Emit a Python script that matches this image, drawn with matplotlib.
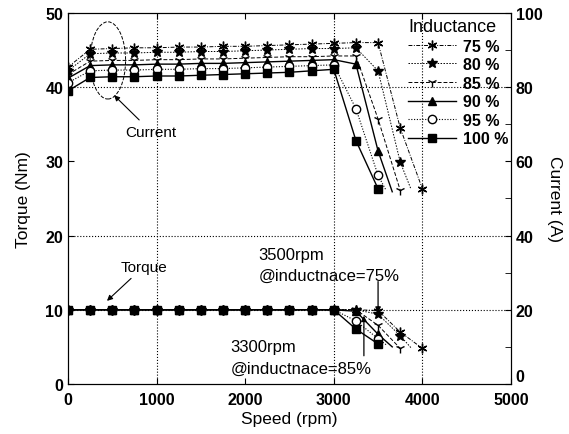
import matplotlib
matplotlib.use("Agg")
import matplotlib.pyplot as plt
from matplotlib.patches import Ellipse

plt.rcParams['font.family'] = ['Liberation Sans', 'DejaVu Sans']

# speeds (rpm) for each inductance case
speed_75 = [0, 250, 500, 750, 1000, 1250, 1500, 1750, 2000, 2250, 2500, 2750, 3000, 3250, 3500, 3750, 4000]
speed_80 = [0, 250, 500, 750, 1000, 1250, 1500, 1750, 2000, 2250, 2500, 2750, 3000, 3250, 3500, 3750, 3870]
speed_85 = [0, 250, 500, 750, 1000, 1250, 1500, 1750, 2000, 2250, 2500, 2750, 3000, 3250, 3500, 3750]
speed_90 = [0, 250, 500, 750, 1000, 1250, 1500, 1750, 2000, 2250, 2500, 2750, 3000, 3250, 3500, 3660]
speed_95 = [0, 250, 500, 750, 1000, 1250, 1500, 1750, 2000, 2250, 2500, 2750, 3000, 3250, 3500, 3590]
speed_100 = [0, 250, 500, 750, 1000, 1250, 1500, 1750, 2000, 2250, 2500, 2750, 3000, 3250, 3500]

# torque (Nm)
torque_75 = [10, 10, 10, 10, 10, 10, 10, 10, 10, 10, 10, 10, 10, 10.0, 9.9, 7.0, 4.8]
torque_80 = [10, 10, 10, 10, 10, 10, 10, 10, 10, 10, 10, 10, 10, 10.0, 9.4, 6.5, 4.9]
torque_85 = [10, 10, 10, 10, 10, 10, 10, 10, 10, 10, 10, 10, 10, 10.0, 7.9, 4.8]
torque_90 = [10, 10, 10, 10, 10, 10, 10, 10, 10, 10, 10, 10, 10, 9.8, 6.7, 5.0]
torque_95 = [10, 10, 10, 10, 10, 10, 10, 10, 10, 10, 10, 10, 10, 8.5, 6.1, 5.3]
torque_100 = [10, 10, 10, 10, 10, 10, 10, 10, 10, 10, 10, 10, 10, 7.4, 5.4]

# current (A)
current_75 = [85.4, 90.2, 90.4, 90.6, 90.6, 90.8, 90.8, 91.0, 91.0, 91.2, 91.4, 91.6, 91.8, 92.0, 92.0, 69.0, 52.6]
current_80 = [84.4, 89.0, 89.2, 89.2, 89.4, 89.4, 89.6, 89.6, 89.8, 90.0, 90.2, 90.4, 90.4, 90.6, 84.4, 59.8, 52.6]
current_85 = [83.4, 87.0, 87.2, 87.2, 87.4, 87.4, 87.6, 87.6, 87.8, 88.0, 88.2, 88.2, 88.4, 88.4, 71.4, 52.2]
current_90 = [82.4, 85.8, 86.0, 86.0, 86.2, 86.2, 86.4, 86.4, 86.6, 86.8, 87.0, 87.2, 87.4, 86.2, 62.8, 51.8]
current_95 = [81.2, 84.4, 84.6, 84.6, 84.8, 84.8, 85.0, 85.0, 85.2, 85.4, 85.6, 85.8, 86.0, 74.2, 56.2, 52.2]
current_100 = [79.0, 82.6, 82.8, 82.8, 83.0, 83.0, 83.2, 83.4, 83.6, 83.8, 84.0, 84.4, 84.8, 65.6, 52.6]

labels = ['75 %', '80 %', '85 %', '90 %', '95 %', '100 %']
speeds = [speed_75, speed_80, speed_85, speed_90, speed_95, speed_100]
torques = [torque_75, torque_80, torque_85, torque_90, torque_95, torque_100]
currents = [current_75, current_80, current_85, current_90, current_95, current_100]

styles = [
    dict(ls=(0, (4, 1.5, 1, 1.5)), marker=(6, 2, 0), ms=7, mfc='k', lw=0.7),
    dict(ls=(0, (1.5, 1.5)), marker='*', ms=7, mfc='k', lw=0.7),
    dict(ls=(0, (4, 2)), marker='1', ms=7, mfc='k', lw=0.7),
    dict(ls='-', marker='^', ms=6, mfc='k', lw=1.0),
    dict(ls=(0, (1, 1.5)), marker='o', ms=6, mfc='white', lw=0.8),
    dict(ls='-', marker='s', ms=5.5, mfc='k', lw=1.0),
]

fig = plt.figure(figsize=(5.69, 4.35), dpi=100)
ax = fig.add_axes([0.1195, 0.115, 0.7785, 0.853])
ax2 = ax.twinx()

# grid lines that show in the scan
for gx in [1000, 3000, 4000]:
    ax.axvline(gx, color='k', ls=':', lw=0.8, zorder=0)
for gy in [10, 20, 40]:
    ax.axhline(gy, color='k', ls=':', lw=0.8, zorder=0)

handles = []
for s, t, c, lab, st in zip(speeds, torques, currents, labels, styles):
    marks = [i for i, v in enumerate(s) if v % 250 == 0]
    ax.plot(s, t, color='k', mec='k', markevery=marks, **st)
    h, = ax2.plot(s, c, color='k', mec='k', markevery=marks, label=lab, **st)
    handles.append(h)

ax.set_xlim(0, 5000)
ax.set_ylim(0, 50)
ax2.set_ylim(0, 100)
ax.set_xticks([0, 1000, 2000, 3000, 4000, 5000])
ax.set_yticks([0, 10, 20, 30, 40, 50])
ax2.set_yticks([0, 20, 40, 60, 80, 100])
ax2.set_yticks([10, 30, 50, 70, 90], minor=True)

ax.tick_params(direction='in', top=True, right=False, labelsize=11.5, length=4)
ax.tick_params(axis='x', pad=6)
ax2.tick_params(direction='in', labelsize=11.5, length=4)
ax2.tick_params(which='minor', direction='in', length=4)
for lab in ax.get_xticklabels() + ax.get_yticklabels() + ax2.get_yticklabels():
    lab.set_fontweight('bold')
ax2.get_yticklabels()[0].set_va('bottom')

ax.set_xlabel('Speed (rpm)', fontsize=12.5, labelpad=3)
ax.set_ylabel('Torque (Nm)', fontsize=12.5, labelpad=10)
ax2.set_ylabel('Current (A)', fontsize=12.5, rotation=270, labelpad=14)

leg = ax2.legend(handles=handles, title='Inductance', loc='upper right',
                 bbox_to_anchor=(1.015, 1.012), frameon=False, fontsize=11.5,
                 title_fontsize=13, handlelength=3.0, labelspacing=0.22,
                 handletextpad=0.4, borderaxespad=0.2, alignment='left')
for tx in leg.get_texts():
    tx.set_fontweight('bold')

# annotations
ax.add_patch(Ellipse((450, 43.6), 400, 10.4, fill=False, ls='--', lw=0.7, color='k'))
ax.annotate('Current', xy=(520, 38.9), xytext=(650, 34.0), fontsize=11,
            ha='left', va='center',
            arrowprops=dict(arrowstyle='-|>', color='k', lw=0.8, mutation_scale=8,
                            shrinkA=2, shrinkB=0))
ax.annotate('Torque', xy=(440, 11.2), xytext=(590, 15.8), fontsize=11,
            ha='left', va='center',
            arrowprops=dict(arrowstyle='-|>', color='k', lw=0.8, mutation_scale=8,
                            shrinkA=2, shrinkB=0))
ax.text(2150, 17.5, '3500rpm', fontsize=12, ha='left', va='center')
ax.text(2150, 14.6, '@inductnace=75%', fontsize=12, ha='left', va='center')
ax.annotate('', xy=(3500, 9.6), xytext=(3500, 13.8),
            arrowprops=dict(arrowstyle='-|>', color='k', lw=0.9, mutation_scale=8,
                            shrinkA=0, shrinkB=0))
ax.text(1833, 5.0, '3300rpm', fontsize=12, ha='left', va='center')
ax.text(1833, 2.1, '@inductnace=85%', fontsize=12, ha='left', va='center')
ax.annotate('', xy=(3340, 9.2), xytext=(3340, 3.8),
            arrowprops=dict(arrowstyle='-|>', color='k', lw=0.9, mutation_scale=8,
                            shrinkA=0, shrinkB=0))

fig.savefig('out.png', dpi=100)
